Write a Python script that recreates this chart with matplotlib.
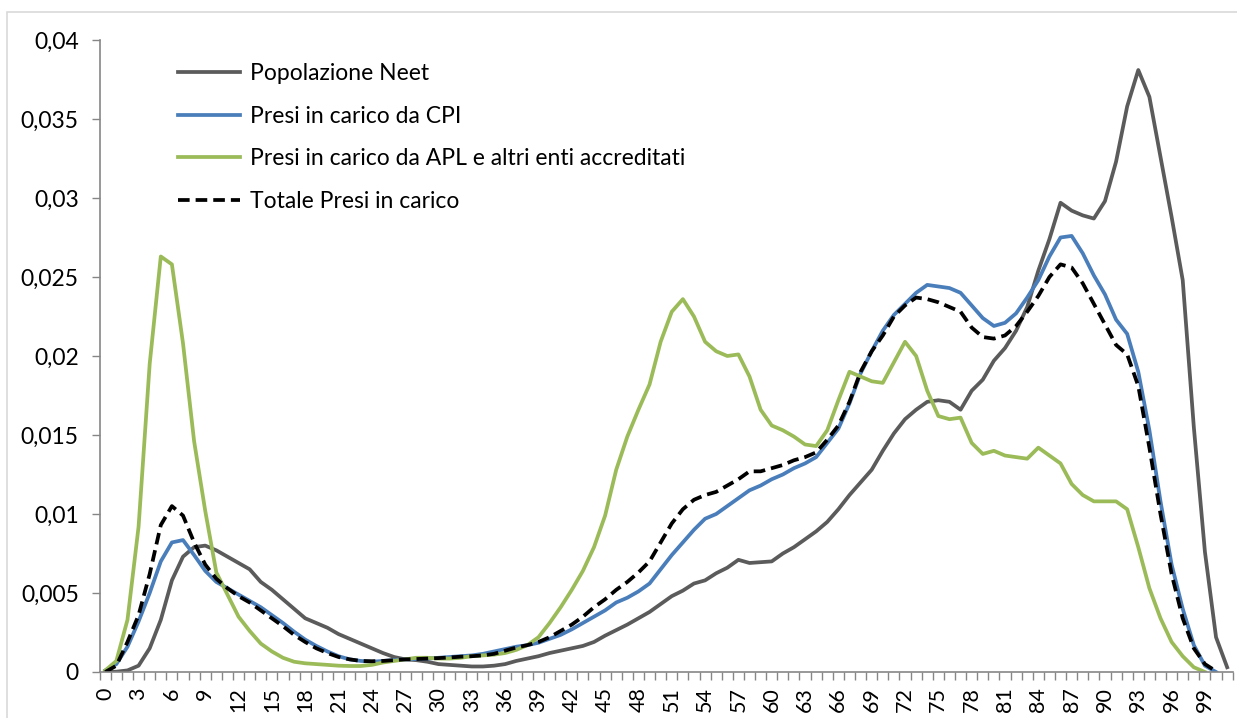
import matplotlib
matplotlib.use("Agg")
import matplotlib.pyplot as plt
import numpy as np
from matplotlib.patches import Rectangle


# quota per eta' (0..101) delle quattro popolazioni
neet = [0.0000, 0.00002, 0.0001, 0.0004, 0.0015, 0.0033, 0.0058, 0.0073, 0.0079, 0.0080,
        0.0077, 0.0073, 0.0069, 0.0065, 0.0057, 0.0052, 0.0046, 0.0040, 0.0034, 0.0031,
        0.0028, 0.0024, 0.0021, 0.0018, 0.0015, 0.0012, 0.00095, 0.0008, 0.00075, 0.00065,
        0.0005, 0.00045, 0.0004, 0.00035, 0.00035, 0.0004, 0.0005, 0.0007, 0.00085, 0.0010,
        0.0012, 0.00135, 0.0015, 0.00165, 0.0019, 0.0023, 0.00265, 0.0030, 0.0034, 0.0038,
        0.0043, 0.0048, 0.00515, 0.0056, 0.0058, 0.00625, 0.0066, 0.0071, 0.0069, 0.00695,
        0.0070, 0.0075, 0.0079, 0.0084, 0.0089, 0.0095, 0.0103, 0.0112, 0.0120, 0.0128,
        0.0140, 0.0151, 0.0160, 0.0166, 0.0171, 0.0172, 0.0171, 0.0166, 0.0178, 0.0185,
        0.0197, 0.0205, 0.0216, 0.0231, 0.0254, 0.0274, 0.0297, 0.0292, 0.0289, 0.0287,
        0.0298, 0.0323, 0.0358, 0.0381, 0.0364, 0.0326, 0.0288, 0.0248, 0.0155, 0.0076,
        0.0022, 0.0003]

cpi = [0.0001, 0.0005, 0.0016, 0.0032, 0.0050, 0.0070, 0.0082, 0.00835, 0.0074, 0.0064,
       0.0057, 0.0053, 0.0049, 0.0045, 0.0041, 0.0036, 0.0031, 0.00255, 0.00205, 0.00165,
       0.0013, 0.0010, 0.0008, 0.0007, 0.00065, 0.0007, 0.00075, 0.0008, 0.00082, 0.00085,
       0.0009, 0.00095, 0.0010, 0.00105, 0.00115, 0.0013, 0.00145, 0.0016, 0.0017, 0.00185,
       0.0021, 0.00235, 0.0027, 0.0031, 0.0035, 0.0039, 0.0044, 0.0047, 0.0051, 0.0056,
       0.0065, 0.0074, 0.0082, 0.0090, 0.0097, 0.0100, 0.0105, 0.0110, 0.0115, 0.0118,
       0.0122, 0.0125, 0.0129, 0.0132, 0.0136, 0.0145, 0.0154, 0.0170, 0.0189, 0.0203,
       0.0216, 0.0226, 0.0233, 0.0240, 0.0245, 0.0244, 0.0243, 0.0240, 0.0232, 0.0224,
       0.0219, 0.0221, 0.0227, 0.0237, 0.0248, 0.0263, 0.0275, 0.0276, 0.0265, 0.0251,
       0.0239, 0.0223, 0.0214, 0.0190, 0.0153, 0.0108, 0.0068, 0.0040, 0.0017, 0.0004,
       0.0000]

apl = [0.0001, 0.0007, 0.0033, 0.0092, 0.0195, 0.0263, 0.0258, 0.0208, 0.0146, 0.0102,
       0.0063, 0.0049, 0.0035, 0.0026, 0.0018, 0.0013, 0.0009, 0.00065, 0.00055, 0.0005,
       0.00045, 0.0004, 0.00038, 0.00038, 0.00045, 0.0006, 0.0007, 0.0008, 0.0009, 0.0009,
       0.00085, 0.00085, 0.0009, 0.0010, 0.00105, 0.0011, 0.0012, 0.0014, 0.0017, 0.0022,
       0.0031, 0.0041, 0.0052, 0.0064, 0.0079, 0.0099, 0.0128, 0.0149, 0.0166, 0.0182,
       0.0209, 0.0228, 0.0236, 0.0225, 0.0209, 0.0203, 0.0200, 0.0201, 0.0187, 0.0166,
       0.0156, 0.0153, 0.0149, 0.0144, 0.0143, 0.0153, 0.0172, 0.0190, 0.0187, 0.0184,
       0.0183, 0.0196, 0.0209, 0.0200, 0.0178, 0.0162, 0.0160, 0.0161, 0.0145, 0.0138,
       0.0140, 0.0137, 0.0136, 0.0135, 0.0142, 0.0137, 0.0132, 0.0119, 0.0112, 0.0108,
       0.0108, 0.0108, 0.0103, 0.0079, 0.0053, 0.0034, 0.0019, 0.0010, 0.0003, 0.0000]

totale = [0.0000, 0.0004, 0.0019, 0.0036, 0.0062, 0.0093, 0.0105, 0.0099, 0.0082, 0.0068,
          0.0059, 0.0053, 0.0048, 0.0044, 0.0039, 0.0034, 0.0029, 0.00235, 0.0019, 0.0015,
          0.0012, 0.00095, 0.0008, 0.0007, 0.00068, 0.0007, 0.00075, 0.0008, 0.00082, 0.00085,
          0.00088, 0.00092, 0.00097, 0.0010, 0.00105, 0.00115, 0.00135, 0.00155, 0.0017, 0.0019,
          0.0022, 0.0026, 0.0030, 0.0035, 0.0041, 0.0046, 0.0052, 0.0057, 0.0063, 0.0070,
          0.0082, 0.0094, 0.0103, 0.0109, 0.0112, 0.0114, 0.0118, 0.0122, 0.0127, 0.0127,
          0.0129, 0.0131, 0.0134, 0.0136, 0.0139, 0.0147, 0.0156, 0.0171, 0.0190, 0.0203,
          0.0213, 0.0225, 0.0232, 0.0237, 0.0236, 0.0234, 0.0231, 0.0228, 0.0218, 0.0212,
          0.0211, 0.0213, 0.0219, 0.0228, 0.0238, 0.0250, 0.0258, 0.0256, 0.0246, 0.0233,
          0.0220, 0.0207, 0.0201, 0.0181, 0.0142, 0.0100, 0.0062, 0.0034, 0.0015, 0.0005,
          0.00005]

labels = [
    "Popolazione Neet",
    "Presi in carico da CPI",
    "Presi in carico da APL e altri enti accreditati",
    "Totale Presi in carico",
]

x_ticks = list(range(0, 100, 3))
y_ticks = [0, 0.005, 0.01, 0.015, 0.02, 0.025, 0.03, 0.035, 0.04]

AXIS_GREY = "#868686"

plt.rcParams["font.family"] = ["Lato", "DejaVu Sans"]

fig = plt.figure(figsize=(12.37, 7.18), dpi=100)
ax = fig.add_axes([99.7 / 1237, 46 / 718, 1133 / 1237, 632 / 718])

# bordo dell'area grafico
fig.patches.append(Rectangle((7 / 1237, -0.05), 1.2, 1 - 12 / 718 + 0.05,
                             transform=fig.transFigure, fill=False,
                             edgecolor="#d9d9d9", linewidth=1.2))

ax.plot(np.arange(len(neet)), neet, color="#5b5b5b", lw=2.7, label=labels[0],
        solid_joinstyle="round")
ax.plot(np.arange(len(cpi)), cpi, color="#4a7ebb", lw=2.7, label=labels[1],
        solid_joinstyle="round")
ax.plot(np.arange(len(apl)), apl, color="#9bbb59", lw=2.7, label=labels[2],
        solid_joinstyle="round")
ax.plot(np.arange(len(totale)), totale, color="black", lw=2.7, label=labels[3],
        dashes=(3.1, 1.6))

ax.set_xlim(-0.5, 101.5)
ax.set_ylim(0, 0.04)

ax.set_xticks(x_ticks)
ax.set_xticklabels([str(v) for v in x_ticks], rotation=90)
ax.set_xticks(np.arange(-0.5, 102, 1), minor=True)
ax.tick_params(axis="x", which="major", length=0, pad=11, labelsize=15.5)
ax.tick_params(axis="x", which="minor", length=6, color=AXIS_GREY, width=1)

ax.set_yticks(y_ticks)
ax.set_yticklabels(["0" if v == 0 else f"{v:g}".replace(".", ",") for v in y_ticks])
ax.tick_params(axis="y", length=6, color=AXIS_GREY, width=1, pad=9, labelsize=16.5)

for side in ("top", "right"):
    ax.spines[side].set_visible(False)
for side in ("left", "bottom"):
    ax.spines[side].set_color(AXIS_GREY)
    ax.spines[side].set_linewidth(1.2)

ax.legend(loc="upper left", bbox_to_anchor=(0.069, 0.963), frameon=False,
          fontsize=16.5, handlelength=2.7, handletextpad=0.44,
          labelspacing=0.94, borderpad=0, borderaxespad=0)

fig.savefig("out.png", dpi=100)
